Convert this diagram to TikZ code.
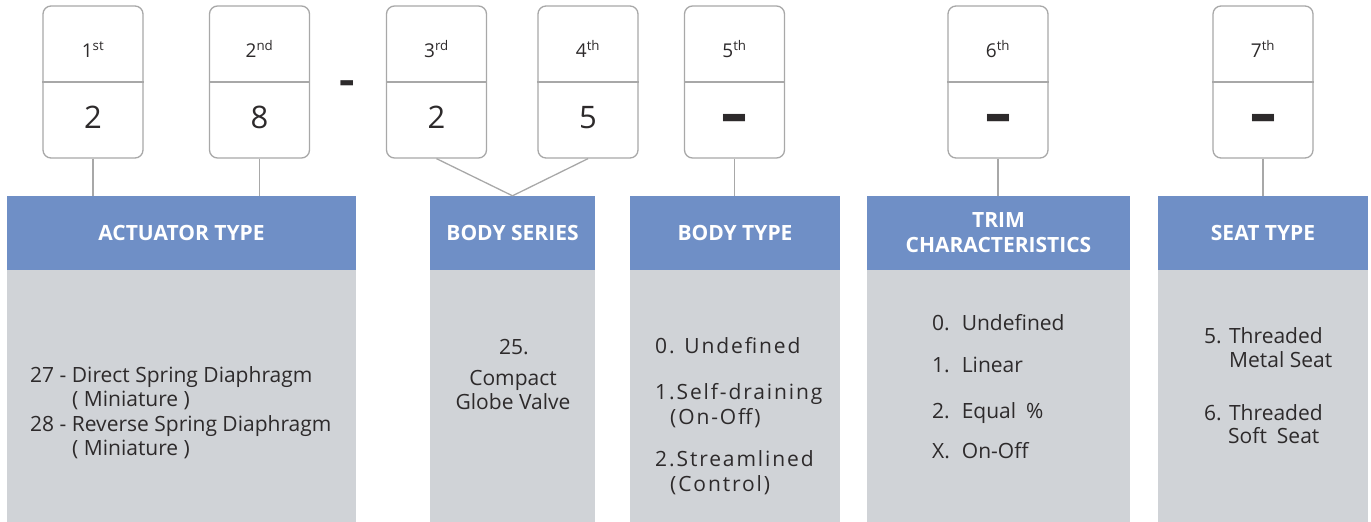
\documentclass[tikz,border=0pt]{standalone}
\usepackage{fontspec}
\setmainfont{Open Sans}
\usepackage{graphicx}
\definecolor{hdr}{RGB}{111,143,198}
\definecolor{bodyg}{RGB}{208,211,215}
\definecolor{edge}{RGB}{168,168,168}
\definecolor{ink}{RGB}{45,42,43}
\begin{document}
\begin{tikzpicture}[x=1pt,y=-1pt,
 digitbox/.style={draw=edge, line width=1.3pt, rounded corners=8pt, minimum width=100pt, minimum height=152pt, fill=white, inner sep=0pt},
 hdrbox/.style={fill=hdr, minimum height=74pt, inner sep=0pt, text=white, font=\bfseries\fontsize{21}{25}\selectfont, align=center},
 listbox/.style={fill=bodyg, minimum height=252pt, inner sep=0pt},
 ord/.style={text=ink, font=\fontsize{19}{22}\selectfont, anchor=base, inner sep=0pt},
 digit/.style={text=ink, font=\fontsize{31}{34}\selectfont, anchor=base, inner sep=0pt},
 bar/.style={text=ink, anchor=base, inner sep=0pt},
 item/.style={text=ink, font=\fontsize{21}{24}\selectfont, anchor=base west, inner sep=0pt},
 itemc/.style={text=ink, font=\fontsize{21}{24}\selectfont, anchor=base, inner sep=0pt},
 spaced/.style={text=ink, font=\fontsize{21}{24}\selectfont\addfontfeature{LetterSpace=9}, anchor=base west, inner sep=0pt},
 conn/.style={draw=edge, line width=1.3pt}
]
\useasboundingbox (0,0) rectangle (1371,522);

% headers and list panels
\node[hdrbox, minimum width=349pt] (h1) at (181.5,233) {\raisebox{-2.5pt}{ACTUATOR TYPE}};
\node[hdrbox, minimum width=165pt] (h2) at (512.5,233) {\raisebox{-2.5pt}{BODY SERIES}};
\node[hdrbox, minimum width=210pt] (h3) at (735,233) {\raisebox{-2.5pt}{BODY TYPE}};
\node[hdrbox, minimum width=263pt] (h4) at (998.5,233) {TRIM\\CHARACTERISTICS};
\node[hdrbox, minimum width=210pt] (h5) at (1263,233) {SEAT TYPE};

\node[listbox, minimum width=349pt] (g1) at (181.5,396) {};
\node[listbox, minimum width=165pt] (g2) at (512.5,396) {};
\node[listbox, minimum width=210pt] (g3) at (735,396) {};
\node[listbox, minimum width=263pt] (g4) at (998.5,396) {};
\node[listbox, minimum width=210pt] (g5) at (1263,396) {};

% digit boxes
\foreach \n/\x in {1/93,2/259.5,3/436.5,4/588,5/734.5,6/998,7/1263}{
  \node[digitbox] (b\n) at (\x,82) {};
  \draw[conn] (b\n.west) -- (b\n.east);
}
\node[ord] (o1) at (93,57) {1\textsuperscript{st}};
\node[ord] (o2) at (259.5,57) {2\textsuperscript{nd}};
\node[ord] (o3) at (436.5,57) {3\textsuperscript{rd}};
\node[ord] (o4) at (588,57) {4\textsuperscript{th}};
\node[ord] (o5) at (734.5,57) {5\textsuperscript{th}};
\node[ord] (o6) at (998,57) {6\textsuperscript{th}};
\node[ord] (o7) at (1263,57) {7\textsuperscript{th}};

\node[digit] (d1) at (93,128) {2};
\node[digit] (d2) at (259.5,128) {8};
\node[digit] (d3) at (436.5,128) {2};
\node[digit] (d4) at (588,128) {5};
\node[bar] (d5) at (734.5,135) {\scalebox{1}[2.7]{\bfseries\fontsize{24}{24}\selectfont —}};
\node[bar] (d6) at (998,135) {\scalebox{1}[2.7]{\bfseries\fontsize{24}{24}\selectfont —}};
\node[bar] (d7) at (1263,135) {\scalebox{1}[2.7]{\bfseries\fontsize{24}{24}\selectfont —}};

\node[bar] (sep) at (347,94) {\scalebox{1.2}[1.05]{\bfseries\fontsize{40}{40}\selectfont -}};

% connectors
\draw[conn] (b1.south) -- (b1.south |- h1.north);
\draw[conn] (b2.south) -- (b2.south |- h1.north);
\draw[conn] (b3.south) -- (h2.north);
\draw[conn] (b4.south) -- (h2.north);
\draw[conn] (b5.south) -- (b5.south |- h3.north);
\draw[conn] (b6.south) -- (b6.south |- h4.north);
\draw[conn] (b7.south) -- (b7.south |- h5.north);

% list texts
\node[item] (a1) at (30,382) {27 - Direct Spring Diaphragm};
\node[item] (a2) at (72,406) {( Miniature )};
\node[item] (a3) at (30,431) {28 - Reverse Spring Diaphragm};
\node[item] (a4) at (72,455) {( Miniature )};

\node[itemc] (s1) at (514,354) {25.};
\node[itemc] (s2) at (513,385) {Compact};
\node[itemc] (s3) at (513,409) {Globe Valve};

\node[spaced] (t1) at (655,353) {0. Undefined};
\node[spaced] (t2) at (655,399) {1.Self-draining};
\node[spaced] (t3) at (670,424) {(On-Off)};
\node[spaced] (t4) at (655,466) {2.Streamlined};
\node[spaced] (t5) at (670,491) {(Control)};

\node[item] (r1) at (932,330) {0.\hspace{12pt}Undefined};
\node[item] (r2) at (932,372) {1.\hspace{12pt}Linear};
\node[item] (r3) at (932,418) {2.\hspace{12pt}Equal\hspace{10pt}\%};
\node[item] (r4) at (932,458) {X.\hspace{12pt}On-Off};

\node[item] (e1) at (1204,343) {5. Threaded};
\node[item] (e2) at (1229,367) {Metal Seat};
\node[item] (e3) at (1204,420) {6. Threaded};
\node[item] (e4) at (1228,443) {Soft\hspace{10pt}Seat};
\end{tikzpicture}
\end{document}
